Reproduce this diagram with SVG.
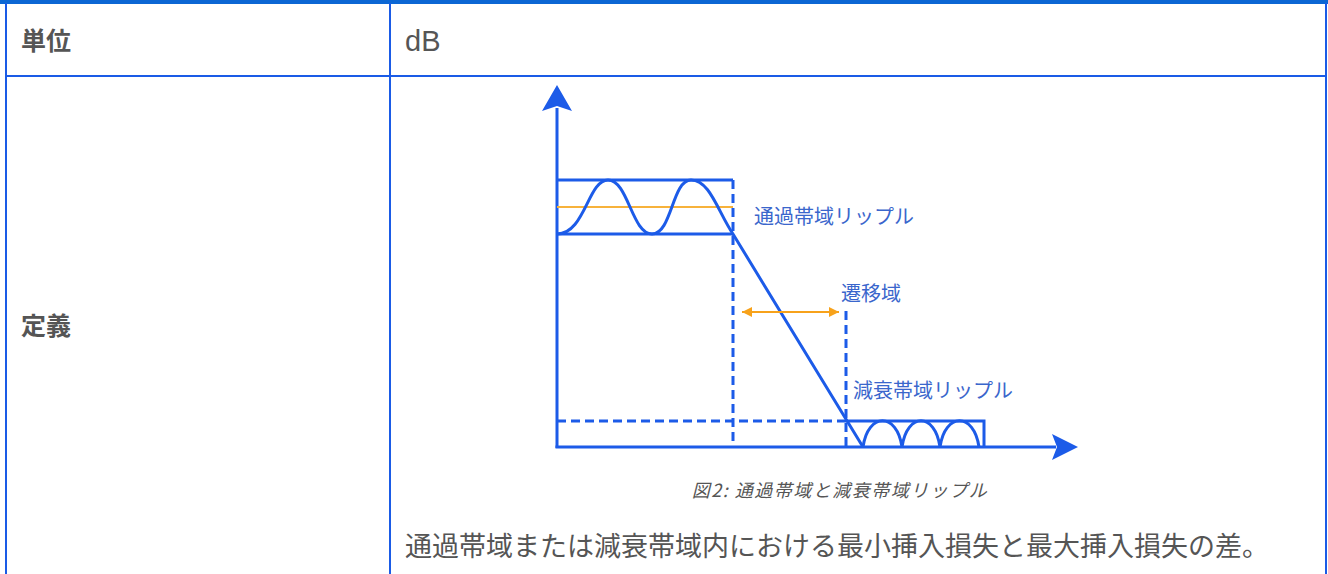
<svg xmlns="http://www.w3.org/2000/svg" width="1328" height="574" viewBox="0 0 1328 574">
<style>
.grid{stroke:#1a5be6;stroke-width:2;fill:none}
.ln{stroke:#1c5be8;stroke-width:3;fill:none}
.dash{stroke:#1c5be8;stroke-width:3;fill:none;stroke-dasharray:9 5}
.hd{font-family:"Noto Sans CJK JP","Noto Sans",sans-serif;font-weight:bold;font-size:25px;fill:#555}
.lbl{font-family:"Noto Sans CJK JP","Noto Sans",sans-serif;font-size:20px;fill:#3a66cc}
.txt{font-family:"Noto Sans CJK JP","Liberation Sans",sans-serif;font-size:27px;fill:#555}
.cap{font-family:"Noto Sans CJK JP","Liberation Sans",sans-serif;font-size:18px;font-style:italic;fill:#555;letter-spacing:1.5px}
</style>
<defs>
<marker id="oa" viewBox="0 0 10 10" refX="10" refY="5" markerWidth="10" markerHeight="10" markerUnits="userSpaceOnUse" orient="auto-start-reverse">
<path d="M0,0 L10,5 L0,10 Z" fill="#f7a21b"/>
</marker>
</defs>
<rect width="1328" height="574" fill="#fff"/>
<g id="table">
<rect x="0" y="0" width="1328" height="4" fill="#0c67d4"/>
<line class="grid" x1="6" y1="3" x2="6" y2="574"/>
<line class="grid" x1="1326" y1="3" x2="1326" y2="574"/>
<line class="grid" x1="390" y1="3" x2="390" y2="574"/>
<line class="grid" x1="6" y1="76" x2="1326" y2="76"/>
</g>
<g id="cell-unit-head"><text class="hd" x="21" y="50">単位</text></g>
<g id="cell-unit-val"><text x="405" y="51" font-family="Liberation Sans, Arial, sans-serif" font-size="29" fill="#555">dB</text></g>
<g id="cell-def-head"><text class="hd" x="21" y="335">定義</text></g>
<g id="chart">
<line class="ln" x1="557" y1="108" x2="557" y2="448"/>
<path d="M557,85 L572,111 L557,106 L542,111 Z" fill="#1c5be8"/>
<line class="ln" x1="555.5" y1="447" x2="1056" y2="447"/>
<path d="M1078,447 L1052,434 L1057,447 L1052,460 Z" fill="#1c5be8"/>
<line x1="557" y1="207" x2="733" y2="207" stroke="#f7b23b" stroke-width="2"/>
<path class="ln" d="M733,180 L557,180 M557,234 L733,234"/>
<path class="ln" d="M557,234 C585,234 588,180 608,180 C628,180 632,234 652,234 C672,234 672,180 691,180 C710,180 718,212 733,234 L863,447"/>
<path class="dash" d="M733,180 L733,447 M846,311 L846,447 M557,421 L846,421"/>
<path class="ln" d="M846,421 L984,421 L984,447"/>
<path class="ln" d="M863,447 C868,412 897,412 902,447 C907,412 935,412 940,447 C945,412 974,412 979,447"/>
<line x1="742" y1="312" x2="839" y2="312" stroke="#f7a21b" stroke-width="2" marker-start="url(#oa)" marker-end="url(#oa)"/>
</g>
<g id="labels">
<text class="lbl" x="754" y="224">通過帯域リップル</text>
<text class="lbl" x="841" y="301">遷移域</text>
<text class="lbl" x="853" y="398">減衰帯域リップル</text>
</g>
<g id="caption"><text class="cap" x="840" y="497" text-anchor="middle">図2: 通過帯域と減衰帯域リップル</text></g>
<g id="cell-def-val"><text class="txt" x="405" y="556">通過帯域または減衰帯域内における最小挿入損失と最大挿入損失の差。</text></g>
</svg>
